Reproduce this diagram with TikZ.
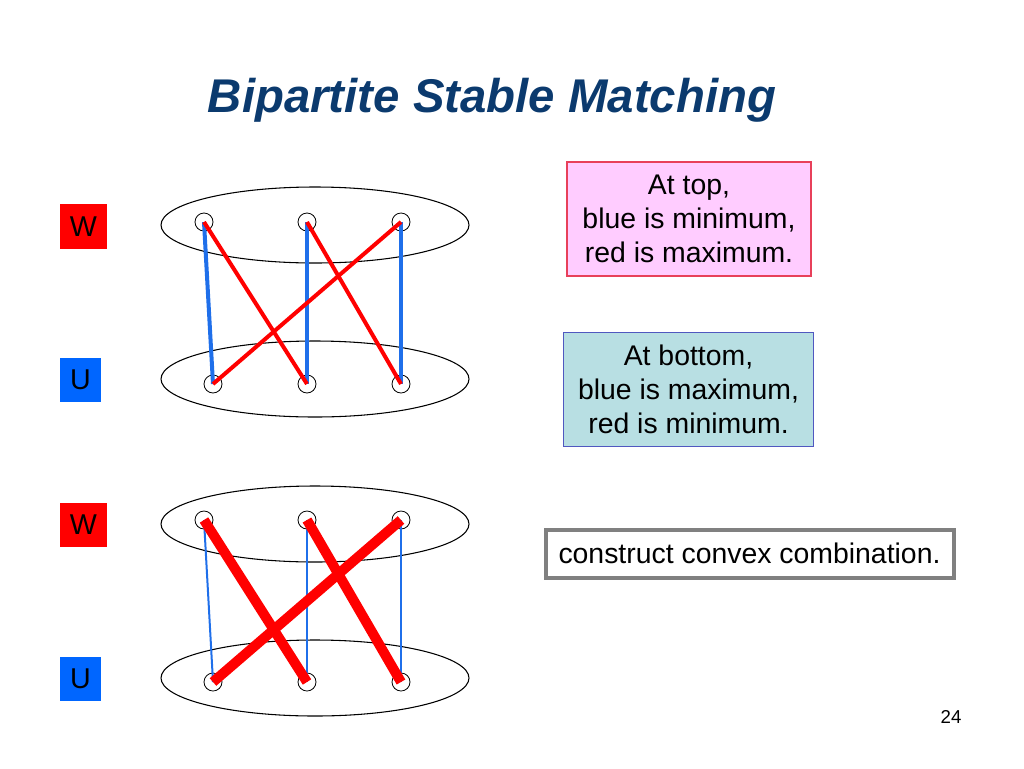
\documentclass[tikz,border=0pt]{standalone}
\usepackage{fontspec}
\setmainfont{Liberation Sans}
\usetikzlibrary{shapes.geometric, positioning}
\definecolor{slidered}{HTML}{FF0000}
\definecolor{slideblue}{HTML}{0066FF}
\definecolor{lineblue}{HTML}{1F6FEA}
\definecolor{titleblue}{HTML}{0B3A6E}
\definecolor{notepink}{HTML}{FFCCFF}
\definecolor{noteedgered}{HTML}{E8405A}
\definecolor{notecyan}{HTML}{B8DFE3}
\definecolor{noteedgeblue}{HTML}{5058C0}
\definecolor{framegray}{HTML}{808080}

\begin{document}
\begin{tikzpicture}[x=0.75pt, y=-0.75pt]
\tikzstyle{side} = [ellipse, draw=black, line width=0.8pt, minimum width=231pt, minimum height=57pt, inner sep=0pt]
\tikzstyle{vert} = [circle, draw=black, line width=0.6pt, minimum size=13.5pt, inner sep=0pt]
\tikzstyle{tag} = [rectangle, inner sep=0pt, minimum height=33.5pt, font=\fontsize{21.5}{25}\selectfont]
\tikzstyle{note} = [rectangle, align=center, inner sep=0pt, font=\fontsize{21.3}{25.5}\selectfont]
\useasboundingbox (0,0) rectangle (1024,768);

\node (title) [anchor=base, text=titleblue, font=\fontsize{35.5}{40}\selectfont\bfseries\itshape] at (492,112) {Bipartite Stable Matching};

% upper picture
\node (wtag1) [tag, fill=slidered, minimum width=35.25pt] at (83.5,226.5) {W};
\node (utag1) [tag, fill=slideblue, minimum width=30.75pt] at (80.5,380) {U};
\node (wset1) [side] at (315,225) {};
\node (uset1) [side] at (315,379) {};
\node (wa1) [vert] at (204,222) {};
\node (wb1) [vert] at (307,222) {};
\node (wc1) [vert] at (401,222) {};
\node (ua1) [vert] at (213,384) {};
\node (ub1) [vert] at (307,384) {};
\node (uc1) [vert] at (401,384) {};
\draw [lineblue, line width=3pt] (wa1.center) -- (ua1.center);
\draw [lineblue, line width=3pt] (wb1.center) -- (ub1.center);
\draw [lineblue, line width=3pt] (wc1.center) -- (uc1.center);
\draw [slidered, line width=3pt] (wa1.center) -- (ub1.center);
\draw [slidered, line width=3pt] (wb1.center) -- (uc1.center);
\draw [slidered, line width=3pt] (wc1.center) -- (ua1.center);

% lower picture
\node (wtag2) [tag, fill=slidered, minimum width=35.25pt] at (83.5,525) {W};
\node (utag2) [tag, fill=slideblue, minimum width=30.75pt] at (80.5,679) {U};
\node (wset2) [side] at (315,524) {};
\node (uset2) [side] at (315,678) {};
\node (wa2) [vert] at (204,520) {};
\node (wb2) [vert] at (307,520) {};
\node (wc2) [vert] at (401,520) {};
\node (ua2) [vert] at (213,682) {};
\node (ub2) [vert] at (307,682) {};
\node (uc2) [vert] at (401,682) {};
\draw [lineblue, line width=1.5pt] (wa2.center) -- (ua2.center);
\draw [lineblue, line width=1.5pt] (wb2.center) -- (ub2.center);
\draw [lineblue, line width=1.5pt] (wc2.center) -- (uc2.center);
\draw [slidered, line width=7.5pt] (wa2.center) -- (ub2.center);
\draw [slidered, line width=7.5pt] (wb2.center) -- (uc2.center);
\draw [slidered, line width=7.5pt] (wc2.center) -- (ua2.center);

% notes
\node (topnote) [note, fill=notepink, draw=noteedgered, line width=0.8pt, minimum width=183pt, minimum height=85.5pt] at (689,219) {At top,\\ blue is minimum,\\ red is maximum.};
\node (botnote) [note, fill=notecyan, draw=noteedgeblue, line width=0.8pt, minimum width=188pt, minimum height=85pt] at (688.5,389.5) {At bottom,\\ blue is maximum,\\ red is minimum.};
\node (mixnote) [note, draw=framegray, line width=3pt, minimum width=306pt, minimum height=36pt] at (749.5,553.5) {construct convex combination.};

\node (pagenum) [anchor=base, font=\fontsize{14}{16}\selectfont] at (951,723) {24};
\end{tikzpicture}
\end{document}
